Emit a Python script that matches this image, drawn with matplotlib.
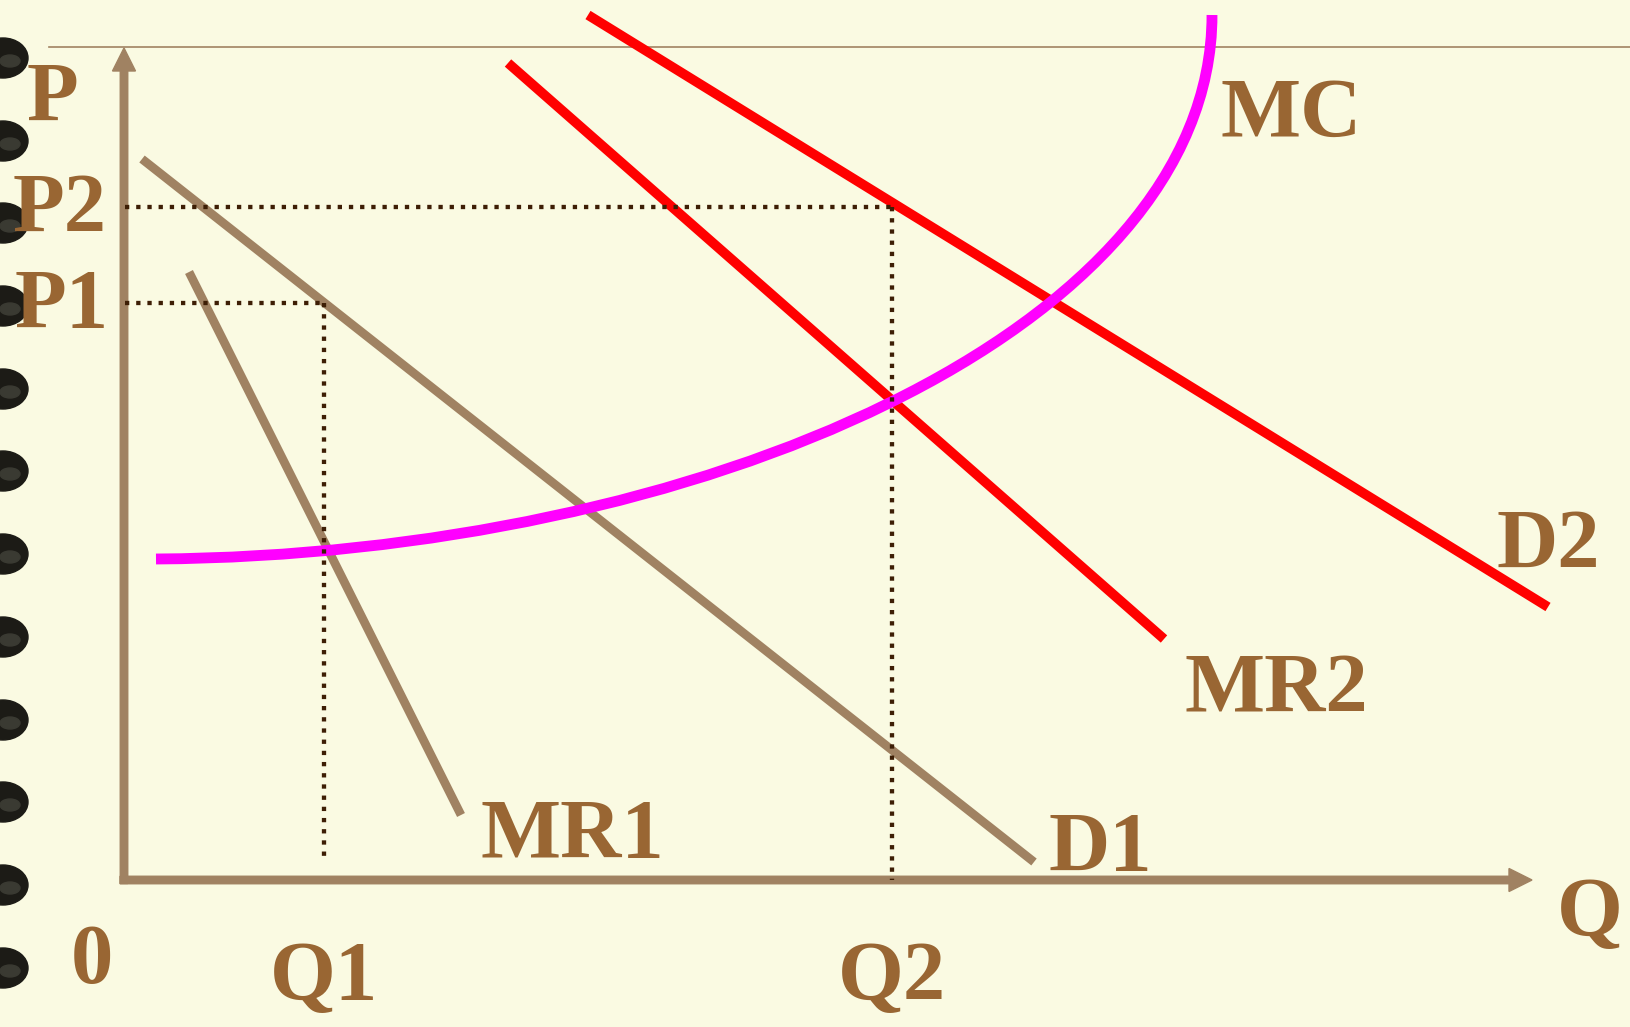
import matplotlib
matplotlib.use("Agg")
import matplotlib.pyplot as plt
from matplotlib.patches import Ellipse, PathPatch
from matplotlib.path import Path

# ---- data (Q, P units; origin at the axis corner) ----
d1_q = [0.18, 9.10]
d1_p = [7.21, 0.18]
mr1_q = [0.65, 3.37]
mr1_p = [6.08, 0.65]
mr2_q = [3.84, 10.40]
mr2_p = [8.17, 2.41]
d2_q = [4.64, 14.24]
d2_p = [8.65, 2.73]
# MC drawn as one cubic Bezier: start, two control points, end
mc_q = [0.32, 5.76, 10.88, 10.88]
mc_p = [3.21, 3.25, 5.50, 8.65]
q1, q2 = 2.00, 7.68
p1, p2 = 5.77, 6.73
q1_bottom = 0.18
ring_p = [8.22, 7.39, 6.57, 5.74, 4.91, 4.09, 3.26, 2.43, 1.60, 0.78, -0.05, -0.88]

BG = "#FAFAE2"
BROWN = "#A08262"
TEXT = "#996633"
DOT = "#3D1E05"

fig = plt.figure(figsize=(16.30, 10.27), dpi=100, facecolor=BG)
ax = fig.add_axes([0, 0, 1, 1])
ax.set_facecolor(BG)
ax.set_xlim(-1.24, 15.06)
ax.set_ylim(-1.47, 8.80)
ax.axis("off")

# spiral binding rings
for y in ring_p:
    ax.add_patch(Ellipse((-1.21, y), 0.50, 0.40, color="#1C1B16", zorder=5))
    ax.add_patch(Ellipse((-1.14, y - 0.03), 0.20, 0.12, color="#3a3a32", zorder=6))

# top rule
ax.plot([-0.75, 15.06], [8.33, 8.33], color=BROWN, lw=1.2, zorder=1)

# axes with arrows
ax.arrow(0, -0.035, 0, 8.355, width=0.075, head_width=0.23, head_length=0.23,
         length_includes_head=True, color=BROWN, zorder=3)
ax.arrow(-0.04, 0, 14.12, 0, width=0.075, head_width=0.23, head_length=0.23,
         length_includes_head=True, color=BROWN, zorder=3)

# dotted guide lines
dot_kw = dict(color=DOT, lw=3.1, linestyle=(0, (1, 1.6)), dash_capstyle="butt", zorder=4)
ax.plot([0.01, q2], [p2, p2], **dot_kw)
ax.plot([q2, q2], [p2, 0.0], **dot_kw)
ax.plot([0.01, q1], [p1, p1], **dot_kw)
ax.plot([q1, q1], [p1, q1_bottom], **dot_kw)

# curves
ax.plot(d1_q, d1_p, color=BROWN, lw=6.3, solid_capstyle="butt", zorder=3)
ax.plot(mr1_q, mr1_p, color=BROWN, lw=6.3, solid_capstyle="butt", zorder=3)
ax.plot(mr2_q, mr2_p, color="#FF0000", lw=7.0, solid_capstyle="butt", zorder=3)
ax.plot(d2_q, d2_p, color="#FF0000", lw=7.0, solid_capstyle="butt", zorder=3)
mc_path = Path(list(zip(mc_q, mc_p)),
               [Path.MOVETO, Path.CURVE4, Path.CURVE4, Path.CURVE4])
ax.add_patch(PathPatch(mc_path, fill=False, edgecolor="#FF00FF",
                       lw=7.8, capstyle="butt", zorder=3))

# labels
fkw = dict(family=["Liberation Serif", "DejaVu Serif"], fontweight="bold",
           fontsize=61, color=TEXT, va="baseline", zorder=7)
ax.text(-0.715, 7.59, "P", ha="center", **fkw)
ax.text(-0.64, 6.48, "P2", ha="center", **fkw)
ax.text(-0.62, 5.52, "P1", ha="center", **fkw)
ax.text(10.97, 7.43, "MC", ha="left", **fkw)
ax.text(13.72, 3.12, "D2", ha="left", **fkw)
ax.text(10.60, 1.67, "MR2", ha="left", **fkw)
ax.text(3.56, 0.22, "MR1", ha="left", **fkw)
ax.text(9.25, 0.09, "D1", ha="left", **fkw)
ax.text(14.33, -0.56, "Q", ha="left", **fkw)
ax.text(-0.32, -1.03, "0", ha="center", **fkw)
ax.text(q1, -1.20, "Q1", ha="center", **fkw)
ax.text(q2, -1.20, "Q2", ha="center", **fkw)

fig.savefig("out.png", dpi=100, facecolor=BG)
